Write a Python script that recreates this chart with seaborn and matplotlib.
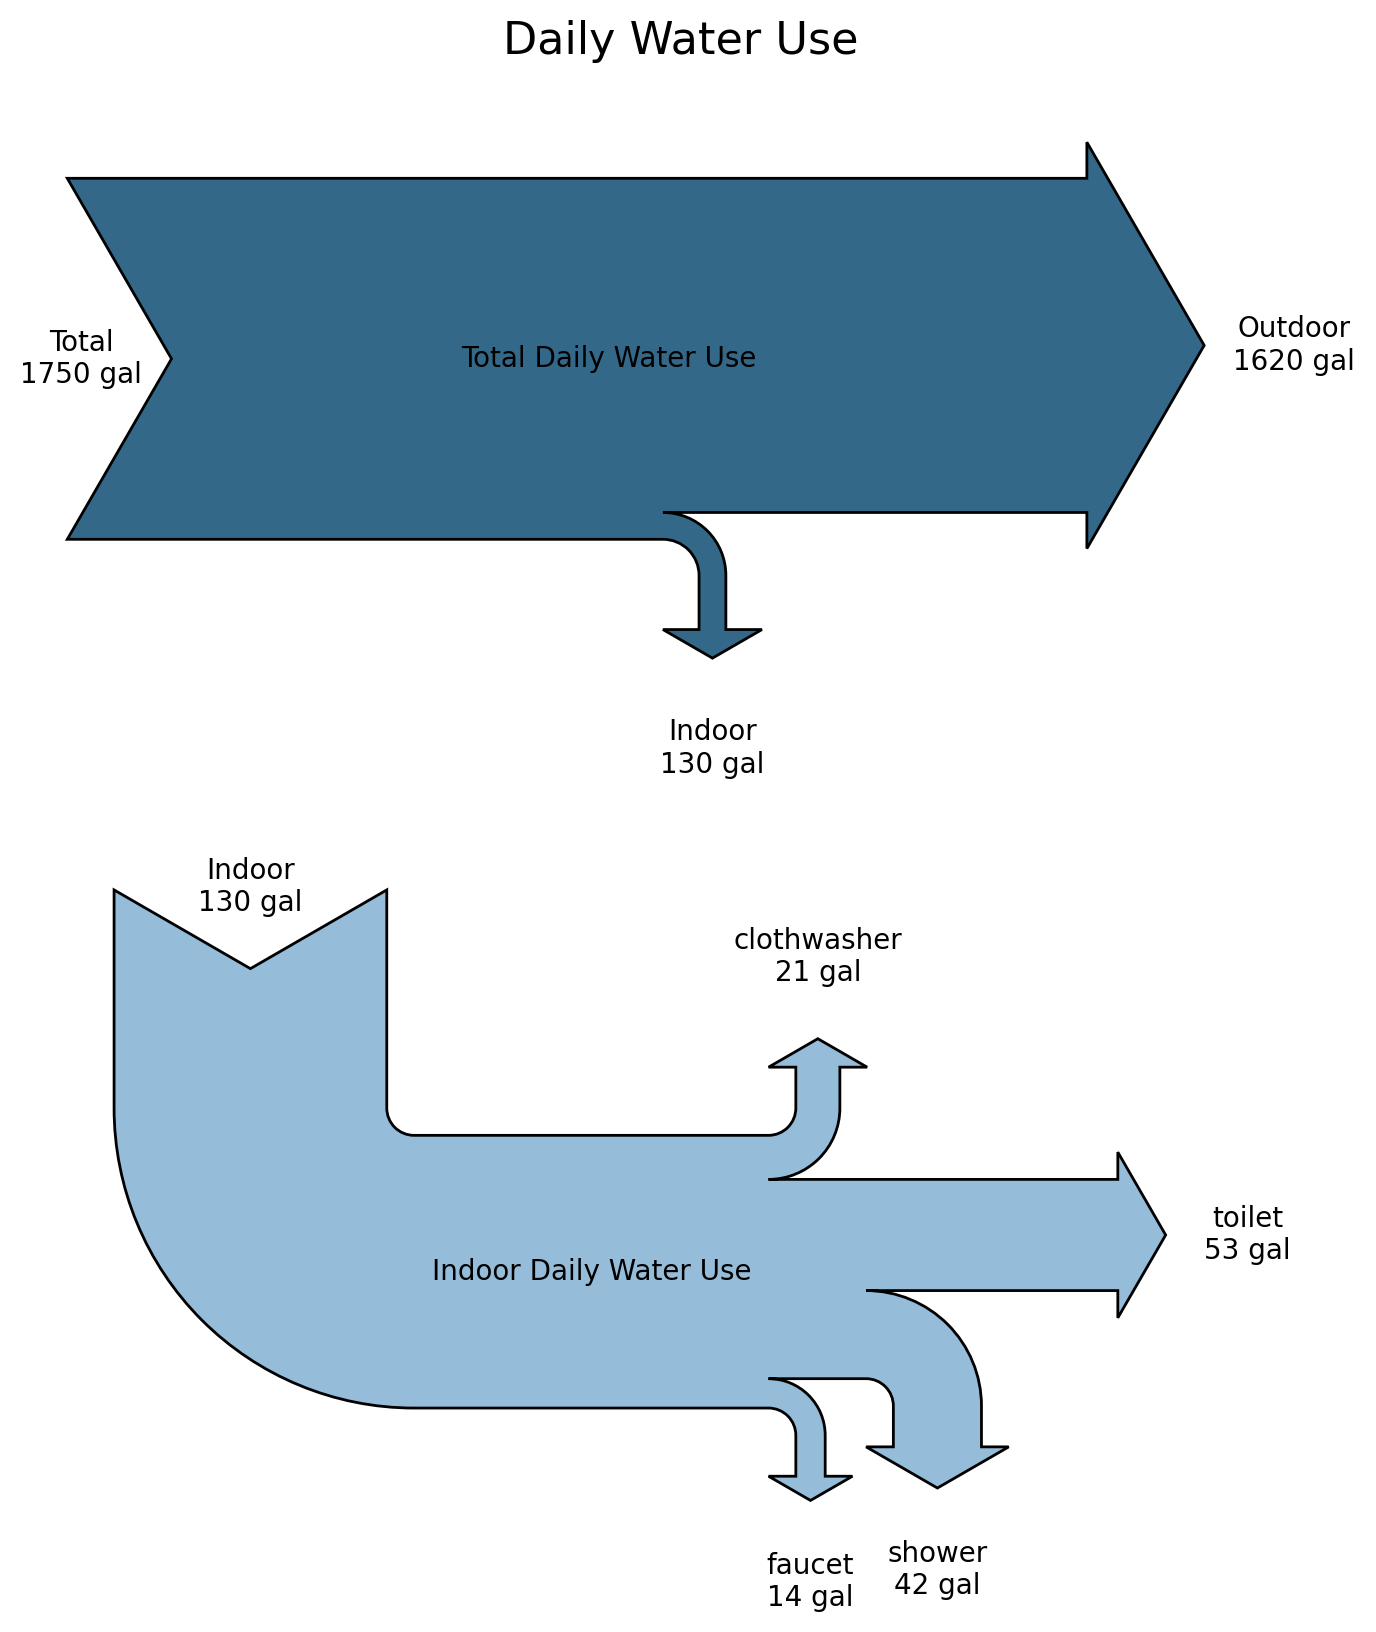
import matplotlib
matplotlib.use("Agg")
import matplotlib.pyplot as plt
from matplotlib.sankey import Sankey
import seaborn as sns

sns.set_theme(style="white")
plt.rcParams["text.color"] = "black"

# daily water use, gallons (inputs positive, outputs negative)
total_labels = ["Total", "Outdoor", "Indoor"]
total_flows = [1750, -1620, -130]

indoor_labels = ["Indoor", "clothwasher", "toilet", "shower", "faucet"]
indoor_flows = [130, -21, -53, -42, -14]

W, H, DPI = 1376, 1632, 200
FS = 10

fig = plt.figure(figsize=(W / DPI, H / DPI), dpi=DPI)


def place(ax, origin, px_per_unit):
    """Pin the sankey frame so both diagrams share one figure layout"""
    x0, y0 = origin
    ax.set_aspect("auto")
    ax.set_position([0, 0, 1, 1])
    ax.set_xlim(-x0 / px_per_unit, (W - x0) / px_per_unit)
    ax.set_ylim(-(H - y0) / px_per_unit, y0 / px_per_unit)
    ax.axis("off")


# top diagram: total split into outdoor / indoor
ax1 = fig.add_subplot(2, 1, 1)
top = Sankey(ax=ax1, scale=1.0 / total_flows[0], unit=" gal", format="%G",
             gap=0.25, radius=0.1, shoulder=0.1, offset=0.25, head_angle=120)
top.add(flows=total_flows, labels=total_labels, orientations=[0, 0, -1],
        trunklength=0.5, pathlengths=[1.5, 1.0, 0.25],
        patchlabel="Total Daily Water Use",
        facecolor="#346888", edgecolor="black", linewidth=1.0)
d_top = top.finish()
place(ax1, (608.8, 358.8), 361.0)

# bottom diagram: indoor use by fixture
ax2 = fig.add_subplot(2, 1, 2)
bottom = Sankey(ax=ax2, scale=1.0 / indoor_flows[0], unit=" gal", format="%G",
                gap=0.25, radius=0.1, shoulder=0.1, offset=0.3, head_angle=120)
bottom.add(flows=indoor_flows, labels=indoor_labels,
           orientations=[1, 1, 0, -1, -1],
           trunklength=1.5, pathlengths=[0.9, 0.25, 0.5, 0.25, 0.25],
           patchlabel="Indoor Daily Water Use",
           facecolor="#95bcd9", edgecolor="black", linewidth=1.0)
d_bot = bottom.finish()
place(ax2, (591.3, 1271.7), 272.7)

for d in d_top + d_bot:
    d.text.set_fontsize(FS)
    d.text.set_color("black")
    for t in d.texts:
        t.set_fontsize(FS)
        t.set_color("black")

fig.text(681 / W, 1 - 54 / H, "Daily Water Use", ha="center", va="baseline",
         fontsize=16, color="black")

fig.savefig("out.png", dpi=DPI)
